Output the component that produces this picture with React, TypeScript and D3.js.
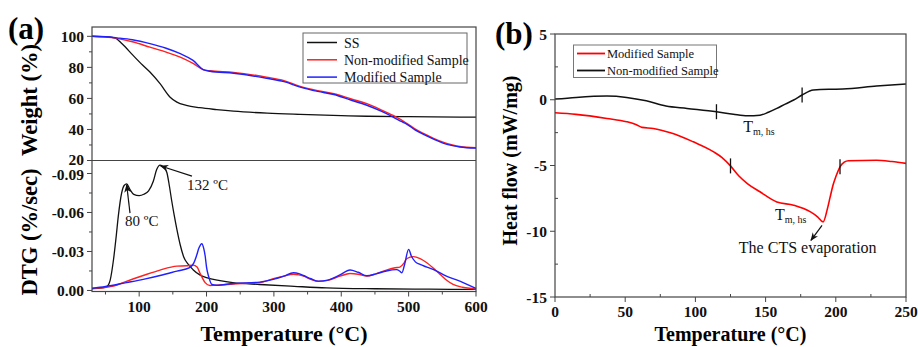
import React from "react";
import * as d3 from "d3";

// ---------- DATA ----------
// Panel (a) top: TGA weight (%) vs temperature (°C)
const ssWeight: [number, number][] = [[30,100],[50,99.8],[64,99],[75,95],[91,87.7],[105,81.5],[116,77],[131,69.5],[146,60.8],[156,57.6],[170,55.5],[190,54],[215,52.8],[240,51.8],[290,50.5],[339,49.7],[400,48.9],[438,48.5],[500,48.2],[576,48],[600,48]];
const nonModWeight: [number, number][] = [[30,100],[50,99.6],[67,98.7],[90,96.5],[116,93],[140,89.8],[161,86.6],[180,82.5],[195,78.5],[205,77.8],[240,76.8],[289,73.7],[315,71.5],[339,67.8],[365,65],[389,63],[415,59.6],[438,56.6],[460,52.5],[477,49],[497,44],[510,40.2],[522,37.4],[537,34.3],[551,31.8],[565,30],[576,29],[600,28.2]];
const modWeight: [number, number][] = [[30,100],[50,99.7],[67,99],[90,97.8],[116,95.3],[140,92.3],[161,88.8],[180,84.5],[195,78.5],[205,77.5],[240,76.2],[289,73],[315,70.8],[339,67.3],[365,64.5],[389,62.5],[415,58.8],[438,55.6],[460,51.6],[477,48],[490,45],[497,43.5],[510,39.6],[522,36.8],[537,33.8],[551,31.2],[565,29.6],[576,28.7],[600,28]];

// Panel (a) bottom: DTG (%/sec)
const ssDtg: [number, number][] = [[30,-0.0015],[45,-0.002],[52,-0.003],[57,-0.008],[62,-0.024],[66,-0.042],[69,-0.057],[74,-0.075],[78,-0.081],[81.5,-0.082],[86,-0.078],[92,-0.074],[100,-0.073],[107,-0.074],[114,-0.0766],[121,-0.084],[126,-0.093],[131,-0.0964],[136,-0.095],[141,-0.091],[145,-0.08],[148,-0.07],[152,-0.058],[156,-0.047],[161,-0.035],[166,-0.026],[173,-0.02],[180,-0.016],[190,-0.012],[200,-0.0098],[220,-0.0075],[239,-0.006],[279,-0.0046],[330,-0.0032],[378,-0.002],[450,-0.0013],[530,-0.001],[600,-0.0008]];
const nonModDtg: [number, number][] = [[30,-0.0015],[45,-0.002],[62,-0.0033],[81,-0.007],[106,-0.0115],[131,-0.0157],[156,-0.0187],[170,-0.019],[180,-0.0195],[186,-0.018],[190,-0.0136],[194,-0.0095],[198,-0.006],[205,-0.0038],[220,-0.0042],[240,-0.005],[260,-0.0055],[279,-0.006],[299,-0.009],[315,-0.011],[329,-0.0125],[337,-0.012],[344,-0.011],[355,-0.0085],[366,-0.007],[380,-0.0078],[398,-0.011],[413,-0.013],[425,-0.0125],[438,-0.011],[452,-0.013],[467,-0.0157],[480,-0.0175],[487,-0.018],[493,-0.021],[497,-0.0244],[507,-0.026],[517,-0.0245],[527,-0.0213],[537,-0.017],[547,-0.0123],[556,-0.008],[566,-0.0046],[580,-0.0025],[596,-0.0013],[600,-0.001]];
const modDtg: [number, number][] = [[30,-0.0015],[50,-0.003],[81,-0.006],[106,-0.0085],[131,-0.0115],[156,-0.0149],[175,-0.0175],[181,-0.021],[185,-0.0265],[189,-0.033],[193,-0.036],[196,-0.032],[198,-0.0265],[200,-0.018],[203,-0.011],[208,-0.0046],[215,-0.004],[240,-0.0054],[279,-0.0064],[299,-0.0085],[315,-0.011],[329,-0.0136],[337,-0.013],[344,-0.0115],[355,-0.009],[366,-0.0072],[380,-0.008],[398,-0.012],[413,-0.0157],[425,-0.014],[438,-0.0113],[452,-0.0128],[467,-0.015],[482,-0.016],[487,-0.0148],[490,-0.0136],[494,-0.02],[500,-0.0316],[504,-0.0265],[510,-0.022],[517,-0.02],[527,-0.018],[537,-0.016],[556,-0.011],[576,-0.0072],[590,-0.004],[600,-0.0015]];

// Panel (b): DSC heat flow (mW/mg)
const dscNonMod: [number, number][] = [[0,0.05],[15,0.18],[37,0.28],[51,0.18],[65,-0.08],[79,-0.48],[94,-0.66],[115,-0.91],[127,-1.1],[137,-1.22],[146,-1.17],[152,-0.95],[158,-0.66],[164,-0.33],[170,-0.02],[176,0.36],[184,0.74],[195,0.8],[205,0.81],[229,1.04],[250,1.2]];
const dscMod: [number, number][] = [[0,-0.99],[15,-1.11],[37,-1.42],[51,-1.67],[58,-1.9],[62,-2.1],[70,-2.18],[77,-2.35],[84,-2.56],[98.5,-3.2],[113,-3.96],[119,-4.4],[125,-5.03],[131,-5.8],[137,-6.37],[146,-7.0],[158,-7.77],[170,-8.02],[182,-8.53],[187,-8.9],[191,-9.29],[194,-8.3],[196,-7.39],[198,-6.5],[200,-5.86],[203,-5.1],[206,-4.75],[209,-4.64],[229,-4.6],[240,-4.7],[250,-4.84]];
const dscNonModMarks = [115, 176];
const dscModMarks = [125, 203];

// Ticks
const aXTicks = [100, 200, 300, 400, 500, 600];
const aXMinor = [50, 150, 250, 350, 450, 550];
const aWTicks = [20, 40, 60, 80, 100];
const aWMinor = [30, 50, 70, 90];
const aDTicks = [-0.09, -0.06, -0.03, 0];
const aDLabels = ["-0.09", "-0.06", "-0.03", "0.00"];
const aDMinor = [-0.075, -0.045, -0.015];
const bXTicks = [0, 50, 100, 150, 200, 250];
const bXMinor = [25, 75, 125, 175, 225];
const bYTicks = [-15, -10, -5, 0, 5];
const bYMinor = [-12.5, -7.5, -2.5, 2.5];

const legendA = [
  { label: "SS", color: "#111111" },
  { label: "Non-modified Sample", color: "#ff2020" },
  { label: "Modified Sample", color: "#2020ff" },
];
const legendB = [
  { label: "Modified Sample", color: "#ff0000" },
  { label: "Non-modified Sample", color: "#111111" },
];

const FONT = "'Liberation Serif', 'Times New Roman', serif";
const FRAME = "#444";

export default function App() {
  // panel (a) geometry
  const aL = 92, aR = 476, aT = 27, aM = 160.5, aB = 291.5;
  const xA = d3.scaleLinear().domain([30, 600]).range([aL, aR]);
  const yW = d3.scaleLinear().domain([20, 106]).range([aM, aT]);
  const yD = d3.scaleLinear().domain([0.0008, -0.1]).range([aB, aM]);
  // panel (b) geometry
  const bL = 555, bR = 906, bT = 34, bB = 297;
  const xB = d3.scaleLinear().domain([0, 250]).range([bL, bR]);
  const yB = d3.scaleLinear().domain([-15, 5]).range([bB, bT]);

  const lineW = d3.line<[number, number]>().x(d => xA(d[0])).y(d => yW(d[1])).curve(d3.curveMonotoneX);
  const lineD = d3.line<[number, number]>().x(d => xA(d[0])).y(d => yD(d[1])).curve(d3.curveMonotoneX);
  const lineB = d3.line<[number, number]>().x(d => xB(d[0])).y(d => yB(d[1])).curve(d3.curveMonotoneX);

  const interp = (data: [number, number][], t: number) => {
    for (let i = 1; i < data.length; i++) {
      if (data[i][0] >= t) {
        const [x0, y0] = data[i - 1], [x1, y1] = data[i];
        return y0 + ((t - x0) / (x1 - x0)) * (y1 - y0);
      }
    }
    return data[data.length - 1][1];
  };

  const tickStyle = { stroke: FRAME, strokeWidth: 1 };
  const tickFont = { fontFamily: FONT, fontWeight: 700, fontSize: 15.5, fill: "#111" } as const;

  return (
    <div style={{ position: "absolute", left: 0, top: 0 }}>
      <svg width={918} height={347} style={{ display: "block", background: "#fff" }}>
        <defs>
          <marker id="arr" viewBox="0 0 10 10" refX="9" refY="5" markerWidth="7" markerHeight="7" orient="auto-start-reverse">
            <path d="M0,1 L10,5 L0,9 L3,5 Z" fill="#111" />
          </marker>
        </defs>

        {/* ---------- Panel (a) ---------- */}
        <text x={8} y={39} style={{ fontFamily: FONT, fontWeight: 700, fontSize: 31 }}>(a)</text>

        {/* curves upper */}
        <path d={lineW(ssWeight) || ""} fill="none" stroke="#111" strokeWidth={1.3} />
        <path d={lineW(nonModWeight) || ""} fill="none" stroke="#ff2020" strokeWidth={1.4} />
        <path d={lineW(modWeight) || ""} fill="none" stroke="#2020ff" strokeWidth={1.4} />
        {/* curves lower */}
        <path d={lineD(ssDtg) || ""} fill="none" stroke="#111" strokeWidth={1.3} />
        <path d={lineD(nonModDtg) || ""} fill="none" stroke="#ff2020" strokeWidth={1.4} />
        <path d={lineD(modDtg) || ""} fill="none" stroke="#2020ff" strokeWidth={1.4} />

        {/* frames */}
        <rect x={aL} y={aT} width={aR - aL} height={aB - aT} fill="none" stroke={FRAME} strokeWidth={1.2} />
        <line x1={aL} x2={aR} y1={aM} y2={aM} stroke={FRAME} strokeWidth={1.2} />

        {/* x ticks a */}
        {aXTicks.map(t => (
          <g key={"ax" + t}>
            <line x1={xA(t)} x2={xA(t)} y1={aB} y2={aB + 5} {...tickStyle} />
            <text x={xA(t)} y={aB + 20} textAnchor="middle" style={tickFont}>{t}</text>
          </g>
        ))}
        {aXMinor.map(t => <line key={"axm" + t} x1={xA(t)} x2={xA(t)} y1={aB} y2={aB + 3} {...tickStyle} />)}
        {/* weight ticks */}
        {aWTicks.map(t => (
          <g key={"aw" + t}>
            <line x1={aL - 5} x2={aL} y1={yW(t)} y2={yW(t)} {...tickStyle} />
            <text x={aL - 8} y={yW(t) + (t === 20 ? 4 : 5.5)} textAnchor="end" style={tickFont}>{t}</text>
          </g>
        ))}
        {aWMinor.map(t => <line key={"awm" + t} x1={aL - 3} x2={aL} y1={yW(t)} y2={yW(t)} {...tickStyle} />)}
        {/* dtg ticks */}
        {aDTicks.map((t, i) => (
          <g key={"ad" + t}>
            <line x1={aL - 5} x2={aL} y1={yD(t)} y2={yD(t)} {...tickStyle} />
            <text x={aL - 8} y={yD(t) + (i === 0 ? 6.5 : 5.5)} textAnchor="end" style={tickFont}>{aDLabels[i]}</text>
          </g>
        ))}
        {aDMinor.map(t => <line key={"adm" + t} x1={aL - 3} x2={aL} y1={yD(t)} y2={yD(t)} {...tickStyle} />)}

        {/* axis titles a */}
        <text x={(aL + aR) / 2} y={341} textAnchor="middle" style={{ fontFamily: FONT, fontWeight: 700, fontSize: 22 }}>Temperature (°C)</text>
        <text transform={`translate(37,100) rotate(-90)`} textAnchor="middle" style={{ fontFamily: FONT, fontWeight: 700, fontSize: 22.5 }}>Weight (%)</text>
        <text transform={`translate(37,${(aM + aB) / 2 + 6}) rotate(-90)`} textAnchor="middle" style={{ fontFamily: FONT, fontWeight: 700, fontSize: 22.5 }}>DTG (%/sec)</text>

        {/* legend a */}
        <rect x={303} y={33} width={164} height={50} fill="#fff" stroke="#666" strokeWidth={1} />
        {legendA.map((l, i) => (
          <g key={l.label}>
            <line x1={307} x2={337} y1={42.5 + i * 17.3} y2={42.5 + i * 17.3} stroke={l.color} strokeWidth={1.5} />
            <text x={344} y={47.5 + i * 17.3} style={{ fontFamily: FONT, fontSize: 14, fill: "#111" }}>{l.label}</text>
          </g>
        ))}

        {/* annotations a */}
        <line x1={xA(86.4)} y1={yD(-0.0595)} x2={xA(81.5)} y2={yD(-0.0812)} stroke="#111" strokeWidth={1.2} markerEnd="url(#arr)" />
        <text x={xA(79)} y={yD(-0.0495)} style={{ fontFamily: FONT, fontSize: 15, fill: "#111" }}>80 ºC</text>
        <line x1={xA(178.4)} y1={yD(-0.088)} x2={xA(132)} y2={yD(-0.0958)} stroke="#111" strokeWidth={1.2} markerEnd="url(#arr)" />
        <text x={xA(171)} y={yD(-0.0775)} style={{ fontFamily: FONT, fontSize: 15, fill: "#111" }}>132 ºC</text>

        {/* ---------- Panel (b) ---------- */}
        <text x={495} y={44} style={{ fontFamily: FONT, fontWeight: 700, fontSize: 31 }}>(b)</text>

        <path d={lineB(dscNonMod) || ""} fill="none" stroke="#111" strokeWidth={1.5} />
        <path d={lineB(dscMod) || ""} fill="none" stroke="#ff0000" strokeWidth={1.6} />
        {dscNonModMarks.map(t => (
          <line key={"bm" + t} x1={xB(t)} x2={xB(t)} y1={yB(interp(dscNonMod, t)) - 7.5} y2={yB(interp(dscNonMod, t)) + 7.5} stroke="#111" strokeWidth={1.3} />
        ))}
        {dscModMarks.map(t => (
          <line key={"bm2" + t} x1={xB(t)} x2={xB(t)} y1={yB(interp(dscMod, t)) - 7.5} y2={yB(interp(dscMod, t)) + 7.5} stroke="#111" strokeWidth={1.3} />
        ))}

        <rect x={bL} y={bT} width={bR - bL} height={bB - bT} fill="none" stroke={FRAME} strokeWidth={1.2} />
        {bXTicks.map(t => (
          <g key={"bx" + t}>
            <line x1={xB(t)} x2={xB(t)} y1={bB} y2={bB + 5} {...tickStyle} />
            <text x={xB(t)} y={bB + 20} textAnchor="middle" style={tickFont}>{t}</text>
          </g>
        ))}
        {bXMinor.map(t => <line key={"bxm" + t} x1={xB(t)} x2={xB(t)} y1={bB} y2={bB - 3} {...tickStyle} />)}
        {bYTicks.map(t => (
          <g key={"by" + t}>
            <line x1={bL - 5} x2={bL} y1={yB(t)} y2={yB(t)} {...tickStyle} />
            <text x={bL - 8} y={yB(t) + 5.5} textAnchor="end" style={tickFont}>{t}</text>
          </g>
        ))}
        {bYMinor.map(t => <line key={"bym" + t} x1={bL} x2={bL + 3} y1={yB(t)} y2={yB(t)} {...tickStyle} />)}

        <text x={(bL + bR) / 2} y={341} textAnchor="middle" style={{ fontFamily: FONT, fontWeight: 700, fontSize: 20 }}>Temperature (°C)</text>
        <text transform={`translate(517,${(bT + bB) / 2 - 5}) rotate(-90)`} textAnchor="middle" style={{ fontFamily: FONT, fontWeight: 700, fontSize: 20 }}>Heat flow (mW/mg)</text>

        {/* legend b */}
        <rect x={573.5} y={45} width={143} height={32.5} fill="#fff" stroke="#777" strokeWidth={1} />
        {legendB.map((l, i) => (
          <g key={l.label}>
            <line x1={577} x2={605} y1={53.5 + i * 17} y2={53.5 + i * 17} stroke={l.color} strokeWidth={1.8} />
            <text x={607} y={58 + i * 17} style={{ fontFamily: FONT, fontSize: 12.5, fill: "#111" }}>{l.label}</text>
          </g>
        ))}

        {/* annotations b */}
        <text x={xB(134)} y={yB(-2.44)} style={{ fontFamily: FONT, fontSize: 16, fill: "#111" }}>
          T<tspan dy={3} fontSize={10}>m, hs</tspan>
        </text>
        <text x={xB(156.7)} y={yB(-9.16)} style={{ fontFamily: FONT, fontSize: 16, fill: "#111" }}>
          T<tspan dy={3} fontSize={10}>m, hs</tspan>
        </text>
        <line x1={xB(190.2)} y1={yB(-9.55)} x2={xB(182.3)} y2={yB(-10.69)} stroke="#111" strokeWidth={1.2} markerEnd="url(#arr)" />
        <text x={xB(180)} y={yB(-11.67)} textAnchor="middle" style={{ fontFamily: FONT, fontSize: 16, fill: "#111" }}>The CTS evaporation</text>
      </svg>
    </div>
  );
}
